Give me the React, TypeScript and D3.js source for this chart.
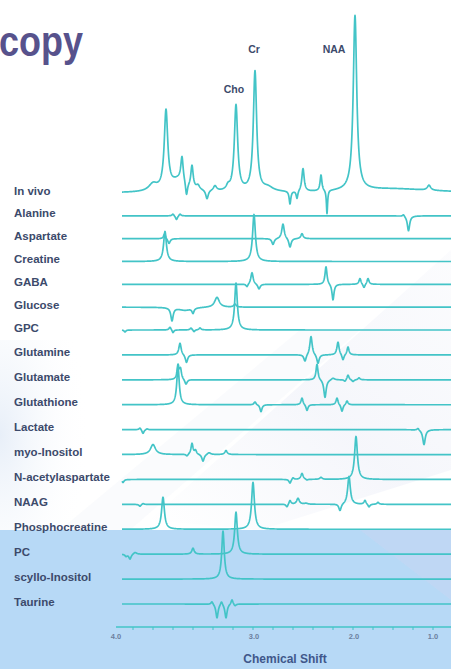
import React from 'react';
import * as d3 from 'd3';

// Each peak: [chemical shift (ppm), intensity (a.u.), half-width (ppm)]
type Peak = [number, number, number];

const inVivo: Peak[] = [
  [4.0, 7, 0.05], [3.87, 78, 0.021], [3.74, 12, 0.1], [3.71, 24, 0.014], [3.665, -14, 0.012],
  [3.61, 22, 0.014], [3.55, 4, 0.02], [3.46, -9, 0.015], [3.38, 5, 0.02], [3.25, 4, 0.02], [3.17, 86, 0.02],
  [2.98, 120, 0.02], [2.85, 4, 0.06], [2.63, -13, 0.01], [2.56, -8, 0.01], [2.5, 23, 0.014], [2.32, 16, 0.011],
  [2.26, -24, 0.007], [1.98, 175, 0.021], [1.6, 4, 0.5], [1.24, 5, 0.02],
];
const alanine: Peak[] = [[3.8, 2, 0.012], [3.765, -4, 0.012], [3.73, 2, 0.012], [1.495, 2, 0.012], [1.445, -15, 0.014]];
const aspartate: Peak[] = [[3.885, 5, 0.012], [3.84, -5, 0.014], [2.8, -6, 0.014], [2.7, 15, 0.015], [2.63, -9, 0.014], [2.51, 5, 0.014]];
const creatine: Peak[] = [[3.88, 30, 0.017], [2.99, 47, 0.017]];
const gaba: Peak[] = [[3.06, -3, 0.012], [3.01, 12, 0.014], [2.94, -5, 0.014], [2.27, 18, 0.012], [2.2, -16, 0.012], [1.93, 6, 0.012], [1.89, -4, 0.012], [1.85, 6, 0.012]];
const glucose: Peak[] = [[3.81, -13, 0.014], [3.68, -3, 0.08], [3.6, -5, 0.012], [3.36, 10, 0.028], [3.18, 3, 0.015]];
const gpc: Peak[] = [[4.28, -2, 0.01], [3.83, 3, 0.012], [3.8, -3, 0.01], [3.62, 2, 0.012], [3.59, -2, 0.01], [3.53, 2, 0.012], [3.17, 47, 0.016]];
const glutamine: Peak[] = [[3.73, 12, 0.014], [3.665, -8, 0.014], [2.48, -7, 0.014], [2.42, 19, 0.014], [2.35, -9, 0.014], [2.15, 13, 0.013], [2.1, -6, 0.012], [2.05, 8, 0.012]];
const glutamate: Peak[] = [[3.75, 14, 0.012], [3.725, 10, 0.012], [3.67, -5, 0.014], [2.36, 16, 0.012], [2.28, -18, 0.014], [2.2, 2, 0.02], [2.08, -2, 0.012], [2.05, 5, 0.012], [2.0, -2, 0.012], [1.94, 2, 0.012]];
const glutathione: Peak[] = [[3.75, 38, 0.015], [2.98, 3, 0.012], [2.92, -7, 0.012], [2.51, 7, 0.012], [2.46, -6, 0.012], [2.16, 7, 0.012], [2.11, -7, 0.012], [2.06, 4, 0.012]];
const lactate: Peak[] = [[4.13, 2, 0.012], [4.1, -4, 0.012], [4.06, 1, 0.012], [1.35, 2, 0.012], [1.29, -15, 0.015]];
const myoInositol: Peak[] = [[4.0, 10, 0.03], [3.66, -2, 0.012], [3.61, 11, 0.012], [3.575, 4, 0.012], [3.5, -7, 0.014], [3.44, 2, 0.02], [3.27, 4, 0.014]];
const naa: Peak[] = [[4.3, -3, 0.012], [2.63, -4, 0.012], [2.6, 2, 0.012], [2.51, 6, 0.014], [2.46, -1, 0.012], [2.32, 2, 0.015], [1.97, 43, 0.017]];
const naag: Peak[] = [[4.13, -2, 0.012], [4.1, 1, 0.012], [2.66, -3, 0.012], [2.63, 4, 0.012], [2.55, 6, 0.016], [2.47, 1, 0.02], [2.13, -7, 0.014], [2.04, 28, 0.016], [1.88, 4, 0.012], [1.84, -3, 0.012], [1.75, 2, 0.012]];
const phosphocreatine: Peak[] = [[3.9, 32, 0.017], [3.0, 47, 0.017]];
const pc: Peak[] = [[4.27, -2, 0.012], [4.23, -5, 0.014], [4.18, 2, 0.02], [3.6, 6, 0.014], [3.17, 42, 0.016]];
const scylloInositol: Peak[] = [[3.3, 48, 0.015]];
const taurine: Peak[] = [[3.41, 3, 0.012], [3.36, -14, 0.013], [3.315, 4, 0.012], [3.27, -14, 0.013], [3.21, 5, 0.012], [3.18, -2, 0.012]];

const names = [
  'In vivo', 'Alanine', 'Aspartate', 'Creatine', 'GABA', 'Glucose', 'GPC', 'Glutamine', 'Glutamate',
  'Glutathione', 'Lactate', 'myo-Inositol', 'N-acetylaspartate', 'NAAG', 'Phosphocreatine', 'PC',
  'scyllo-Inositol', 'Taurine',
];
const spectra: Peak[][] = [
  inVivo, alanine, aspartate, creatine, gaba, glucose, gpc, glutamine, glutamate, glutathione,
  lactate, myoInositol, naa, naag, phosphocreatine, pc, scylloInositol, taurine,
];

const tickValues = [4.0, 3.0, 2.0, 1.0];
const tickLabels = ['4.0', '3.0', '2.0', '1.0'];
const minorTicks = [4.2, 4.0, 3.8, 3.6, 3.4, 3.2, 3.0, 2.8, 2.6, 2.4, 2.2, 2.0, 1.8, 1.6, 1.4, 1.2, 1.0];
const annotationLabels = ['Cho', 'Cr', 'NAA'];
const annotationPpm = [3.19, 2.99, 2.19];

const W = 451;
const H = 669;
const TEAL = '#43c4c7';
const LABEL = '#3c4a6b';
const FONT = '"Liberation Sans", Arial, Helvetica, sans-serif';

const x = d3.scaleLinear().domain([4.0, 1.0]).range([153, 453]);
// tick labels in the source sit at the ends of the axis for 4.0 and 1.0
const tickLabelX = d3.scaleLinear().domain([4.0, 3.0, 2.0, 1.0]).range([116, 254, 354, 433]);
const rowY = d3.scaleLinear().domain([0, 6, 17]).range([193, 330, 604]);
const amp = d3.scaleLinear().domain([0, 100]).range([0, 100]);

const lorentz = (peaks: Peak[], p: number) =>
  peaks.reduce((s, [c, a, w]) => s + (a * w * w) / ((p - c) * (p - c) + w * w), 0);

const grid = d3.range(x.invert(122), x.invert(455), -0.002);

export default function App() {
  const line = d3.line<[number, number]>().x((d) => d[0]).y((d) => d[1]);
  const paths = spectra.map((peaks, i) => {
    const base = rowY(i);
    const pts: [number, number][] = grid.map((p) => [x(p), base - amp(lorentz(peaks, p))]);
    return line(pts) || '';
  });
  const annY = [93, 53, 53];
  const axisY = 627;

  return (
    <svg
      width={W}
      height={H}
      viewBox={`0 0 ${W} ${H}`}
      style={{ position: 'absolute', left: 0, top: 0, display: 'block' }}
      fontFamily={FONT}
    >
      <defs>
        <linearGradient id="diag" x1="0" y1="1" x2="1" y2="0">
          <stop offset="0" stopColor="#d3d8ee" stopOpacity="0.0" />
          <stop offset="0.5" stopColor="#d3d8ee" stopOpacity="0.22" />
          <stop offset="1" stopColor="#d3d8ee" stopOpacity="0.08" />
        </linearGradient>
        <radialGradient id="leftGlow" cx="0" cy="0.5" r="1">
          <stop offset="0" stopColor="#d8e4f4" stopOpacity="0.6" />
          <stop offset="1" stopColor="#ffffff" stopOpacity="0" />
        </radialGradient>
      </defs>
      <rect x={0} y={0} width={W} height={H} fill="#ffffff" />
      <rect x={0} y={340} width={90} height={190} fill="url(#leftGlow)" />
      <polygon points="150,520 451,250 451,470 260,530" fill="url(#diag)" />
      <polygon points="60,530 300,330 360,330 130,530" fill="#eceff7" opacity={0.25} />
      <rect x={0} y={530} width={W} height={H - 530} fill="#b7d9f6" />
      <polygon points="360,530 451,530 451,600" fill="#cdd3f0" opacity={0.35} />

      <text x={-1} y={56} fontSize={42} fontWeight="bold" fill="#57528c" textLength={84} lengthAdjust="spacingAndGlyphs">
        copy
      </text>

      {annotationLabels.map((t, i) => (
        <text key={t} x={x(annotationPpm[i])} y={annY[i]} textAnchor="middle" fontSize={10.5} fontWeight="bold" fill={LABEL}>
          {t}
        </text>
      ))}

      {names.map((n, i) => (
        <text key={n} x={14} y={rowY(i) + 1.5} fontSize={11.5} fontWeight="bold" fill={LABEL}>
          {n}
        </text>
      ))}

      {paths.map((d, i) => (
        <path key={i} d={d} fill="none" stroke={TEAL} strokeWidth={1.7} strokeLinejoin="round" />
      ))}

      <line x1={116} x2={W} y1={axisY} y2={axisY} stroke={TEAL} strokeWidth={1.5} />
      {minorTicks.map((v) => (
        <line key={v} x1={x(v)} x2={x(v)} y1={axisY} y2={axisY + 3} stroke={TEAL} strokeWidth={1} />
      ))}
      {tickValues.map((v, i) => (
        <text key={v} x={tickLabelX(v)} y={axisY + 12} textAnchor="middle" fontSize={7.5} fontWeight="bold" fill="#6c7f9e">
          {tickLabels[i]}
        </text>
      ))}
      <text x={285} y={663} textAnchor="middle" fontSize={12} fontWeight="bold" fill="#40578a">
        Chemical Shift
      </text>
    </svg>
  );
}
